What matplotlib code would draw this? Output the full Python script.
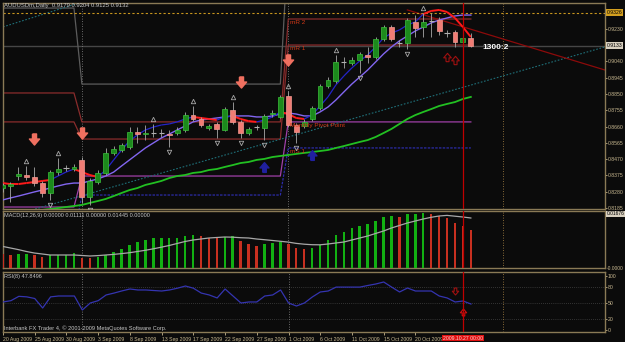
import numpy as np
import matplotlib.pyplot as plt
from matplotlib.collections import LineCollection
from matplotlib.path import Path
from matplotlib.transforms import blended_transform_factory

plt.rcParams['font.family'] = ['Liberation Sans Narrow', 'Liberation Sans', 'DejaVu Sans']

# AUDUSDm daily bars, 20 Aug 2009 onwards (broker has Sunday bars)
opens = [0.8301, 0.8313, 0.8371, 0.8377, 0.8365, 0.8330, 0.8272, 0.8394, 0.8415, 0.8412,
         0.8465, 0.8249, 0.8336, 0.8389, 0.8506, 0.8523, 0.8541, 0.8628, 0.8616, 0.8622,
         0.8622, 0.8616, 0.8622, 0.8640, 0.8727, 0.8704, 0.8651, 0.8675, 0.8640, 0.8757,
         0.8687, 0.8622, 0.8657, 0.8651, 0.8733, 0.8716, 0.8838, 0.8669, 0.8663, 0.8704,
         0.8768, 0.8897, 0.8926, 0.9037, 0.9031, 0.9049, 0.9078, 0.9066, 0.9171, 0.9241,
         0.9148, 0.9148, 0.9271, 0.9241, 0.9276, 0.9282, 0.9206, 0.9212, 0.9154, 0.9179]
highs = [0.8330, 0.8336, 0.8424, 0.8430, 0.8424, 0.8342, 0.8406, 0.8476, 0.8435, 0.8441,
         0.8482, 0.8359, 0.8406, 0.8535, 0.8546, 0.8564, 0.8657, 0.8657, 0.8669, 0.8675,
         0.8646, 0.8640, 0.8657, 0.8745, 0.8780, 0.8716, 0.8675, 0.8687, 0.8774, 0.8803,
         0.8698, 0.8657, 0.8669, 0.8733, 0.8757, 0.8844, 0.8868, 0.8681, 0.8704, 0.8780,
         0.8908, 0.8949, 0.9078, 0.9066, 0.9066, 0.9095, 0.9125, 0.9183, 0.9253, 0.9253,
         0.9165, 0.9294, 0.9311, 0.9326, 0.9323, 0.9300, 0.9224, 0.9224, 0.9189, 0.9204]
lows = [0.8278, 0.8219, 0.8348, 0.8348, 0.8313, 0.8249, 0.8231, 0.8377, 0.8400, 0.8400,
        0.8214, 0.8202, 0.8324, 0.8377, 0.8494, 0.8511, 0.8529, 0.8564, 0.8581, 0.8599,
        0.8599, 0.8541, 0.8611, 0.8628, 0.8692, 0.8657, 0.8640, 0.8593, 0.8634, 0.8675,
        0.8593, 0.8611, 0.8640, 0.8581, 0.8716, 0.8710, 0.8657, 0.8564, 0.8651, 0.8692,
        0.8757, 0.8885, 0.8914, 0.9002, 0.9019, 0.8973, 0.9031, 0.9054, 0.9160, 0.9160,
        0.9125, 0.9113, 0.9183, 0.9183, 0.9183, 0.9195, 0.9183, 0.9125, 0.9142, 0.9125]
closes = [0.8319, 0.8324, 0.8383, 0.8365, 0.8330, 0.8272, 0.8394, 0.8412, 0.8418, 0.8424,
          0.8249, 0.8342, 0.8389, 0.8506, 0.8529, 0.8552, 0.8628, 0.8616, 0.8622, 0.8624,
          0.8620, 0.8611, 0.8640, 0.8727, 0.8704, 0.8669, 0.8663, 0.8646, 0.8762, 0.8687,
          0.8622, 0.8646, 0.8655, 0.8722, 0.8739, 0.8833, 0.8669, 0.8628, 0.8687, 0.8768,
          0.8897, 0.8932, 0.9037, 0.9035, 0.9049, 0.9084, 0.9066, 0.9171, 0.9241, 0.9171,
          0.9146, 0.9282, 0.9235, 0.9271, 0.9274, 0.9218, 0.9204, 0.9154, 0.9177, 0.9132]

tick_pos = [0, 4, 8, 12, 16, 20, 24, 28, 32, 36, 40, 44, 48, 52]
tick_labels = ['20 Aug 2009', '25 Aug 2009', '30 Aug 2009', '3 Sep 2009', '8 Sep 2009',
               '13 Sep 2009', '17 Sep 2009', '22 Sep 2009', '27 Sep 2009', '1 Oct 2009',
               '6 Oct 2009', '11 Oct 2009', '15 Oct 2009', '20 Oct 2009']
price_ticks = [0.8185, 0.8280, 0.8375, 0.8470, 0.8565, 0.8660, 0.8755, 0.8850, 0.8945,
               0.9040, 0.9230]

# moving averages as seen on the chart
ma_fast = [0.8330, 0.8324, 0.8324, 0.8330, 0.8336, 0.8342, 0.8348, 0.8371, 0.8394, 0.8412,
           0.8394, 0.8377, 0.8365, 0.8406, 0.8465, 0.8523, 0.8576, 0.8611, 0.8640, 0.8657,
           0.8669, 0.8675, 0.8687, 0.8704, 0.8716, 0.8710, 0.8704, 0.8698, 0.8716, 0.8722,
           0.8704, 0.8692, 0.8687, 0.8698, 0.8716, 0.8745, 0.8733, 0.8710, 0.8704, 0.8727,
           0.8780, 0.8833, 0.8903, 0.8955, 0.9002, 0.9043, 0.9078, 0.9125, 0.9177, 0.9206,
           0.9224, 0.9253, 0.9271, 0.9317, 0.9335, 0.9341, 0.9329, 0.9294, 0.9241, 0.9183]
ma_fast_dir = "ddddddduuu" "ddduuuuuuu" "uuuuuddduu" "ddduuudddu" "uuuuuuuuuu" "uuuudddddd"
ma_slow = [0.8231, 0.8243, 0.8254, 0.8266, 0.8278, 0.8289, 0.8301, 0.8313, 0.8324, 0.8330,
           0.8330, 0.8342, 0.8354, 0.8371, 0.8394, 0.8430, 0.8465, 0.8500, 0.8535, 0.8564,
           0.8593, 0.8616, 0.8640, 0.8663, 0.8687, 0.8698, 0.8704, 0.8710, 0.8716, 0.8722,
           0.8722, 0.8722, 0.8716, 0.8716, 0.8722, 0.8733, 0.8739, 0.8733, 0.8722, 0.8722,
           0.8745, 0.8774, 0.8815, 0.8862, 0.8908, 0.8949, 0.8990, 0.9037, 0.9084, 0.9125,
           0.9160, 0.9189, 0.9218, 0.9241, 0.9265, 0.9282, 0.9294, 0.9306, 0.9311, 0.9311]
ma_long = [0.8143, 0.8149, 0.8155, 0.8161, 0.8167, 0.8173, 0.8178, 0.8184, 0.8190, 0.8196,
           0.8202, 0.8214, 0.8225, 0.8237, 0.8254, 0.8272, 0.8289, 0.8301, 0.8319, 0.8330,
           0.8342, 0.8359, 0.8371, 0.8377, 0.8389, 0.8394, 0.8406, 0.8412, 0.8424, 0.8435,
           0.8447, 0.8453, 0.8465, 0.8471, 0.8482, 0.8488, 0.8494, 0.8500, 0.8506, 0.8511,
           0.8517, 0.8523, 0.8535, 0.8546, 0.8558, 0.8570, 0.8581, 0.8599, 0.8622, 0.8646,
           0.8675, 0.8704, 0.8727, 0.8745, 0.8762, 0.8780, 0.8792, 0.8803, 0.8821, 0.8833]

# monthly pivots for Aug, Sep, Oct and number of bars in each month
month_bars = [10, 26, 24]
piv_r3 = [0.9352, 0.8908, 0.9738]
piv_r2 = [0.8856, 0.8687, 0.9288]
piv_r1 = [0.8687, 0.8587, 0.9136]
piv_pp = [0.8190, 0.8371, 0.8687]
piv_s1 = [0.8021, 0.8260, 0.8535]

# MACD(12,26,9)
macd_hist = [0.00434, 0.00403, 0.00434, 0.00434, 0.00403, 0.00341, 0.00403, 0.00403, 0.00403, 0.00465,
             0.00310, 0.00310, 0.00326, 0.00403, 0.00496, 0.00589, 0.00713, 0.00806, 0.00868, 0.00930,
             0.00930, 0.00930, 0.00930, 0.00992, 0.01023, 0.00992, 0.00930, 0.00915, 0.00961, 0.00977,
             0.00837, 0.00744, 0.00682, 0.00744, 0.00760, 0.00806, 0.00744, 0.00620, 0.00589, 0.00620,
             0.00713, 0.00868, 0.01023, 0.01116, 0.01240, 0.01302, 0.01364, 0.01457, 0.01581, 0.01612,
             0.01581, 0.01674, 0.01680, 0.01690, 0.01670, 0.01612, 0.01550, 0.01395, 0.01302, 0.01178]
macd_col = "rrggrrgggg" "rrgggggggg" "gggggrrrgg" "rrrgggrrrg" "gggggggggg" "rgggrrrrrr"
macd_signal = [0.00670, 0.00620, 0.00570, 0.00512, 0.00465, 0.00434, 0.00403, 0.00403, 0.00403, 0.00403,
               0.00388, 0.00372, 0.00384, 0.00403, 0.00422, 0.00446, 0.00474, 0.00512, 0.00549, 0.00595,
               0.00645, 0.00698, 0.00760, 0.00822, 0.00868, 0.00899, 0.00930, 0.00946, 0.00961, 0.00955,
               0.00939, 0.00930, 0.00899, 0.00877, 0.00853, 0.00828, 0.00803, 0.00763, 0.00738, 0.00722,
               0.00719, 0.00744, 0.00775, 0.00806, 0.00868, 0.00930, 0.00992, 0.01070, 0.01147, 0.01240,
               0.01318, 0.01395, 0.01457, 0.01519, 0.01572, 0.01612, 0.01631, 0.01606, 0.01581, 0.01550]

# RSI(8)
rsi = [51.6, 54.0, 62.0, 61.0, 58.0, 40.5, 61.0, 62.6, 62.6, 62.6,
       36.8, 49.7, 54.0, 64.5, 68.0, 72.0, 75.5, 73.7, 73.7, 72.7,
       71.8, 73.7, 77.0, 81.0, 77.0, 68.0, 64.5, 59.0, 75.5, 62.6,
       49.7, 51.6, 51.6, 62.6, 64.5, 73.7, 49.7, 44.2, 49.7, 60.8,
       70.0, 71.8, 79.0, 79.0, 79.0, 79.0, 82.0, 84.7, 88.4, 79.0,
       70.0, 77.3, 71.8, 71.8, 71.8, 62.6, 59.0, 51.6, 53.4, 47.85]

# fractals and signal arrows
fractal_up = [3, 7, 19, 24, 29, 36, 42, 53]
fractal_dn = [6, 11, 21, 27, 30, 33, 37, 45, 51]
sell_idx = [4, 10, 30, 36]
sell_price = [0.8587, 0.8622, 0.8920, 0.9049]
buy_idx = [33, 39]
buy_price = [0.8424, 0.8494]
exit_idx = [56, 57]
exit_price = [0.9066, 0.9049]

# drawn objects: (bar, price) anchors
channel_a = [(0, 0.9241), (10, 0.9387)]
channel_b = [(3.7, 0.8173), (75.9, 0.9125)]
down_line = [(51, 0.9341), (75.9, 0.8990)]
high_level = 0.9326
bid_level = 0.9133

BG = '#0b0b0b'
FRAME = '#8a7a56'
TXT = '#c8b890'
LBL = 3.7
W, H = 625, 342

fig = plt.figure(figsize=(W / 100, H / 100), dpi=100, facecolor=BG)


def panel(top, bottom):
    a = fig.add_axes([3 / W, 1 - bottom / H, 602 / W, (bottom - top) / H])
    a.set_facecolor(BG)
    for s in a.spines.values():
        s.set_color(FRAME)
        s.set_linewidth(1)
    a.yaxis.tick_right()
    a.tick_params(colors=TXT, labelsize=LBL, length=1.5, width=0.6, pad=0.6)
    a.set_xlim(0.06, 75.9)
    a.set_xticks([])
    return a


ax = panel(3, 209)
axm = panel(211, 268)
axr = panel(272, 332)

x = np.arange(len(opens))
o, h, l, c = map(np.array, (opens, highs, lows, closes))

# arrow marker
arr = [(-0.22, 0.6), (0.22, 0.6), (0.22, 0.05), (0.55, 0.05), (0, -0.6),
       (-0.55, 0.05), (-0.22, 0.05), (-0.22, 0.6)]
down_arrow = Path(arr)
up_arrow = Path([(px, -py) for px, py in arr])

# price panel
ax.set_ylim(0.81784, 0.93815)
ax.set_yticks(price_ticks)
ax.set_yticklabels([f'{p:.4f}' for p in price_ticks])

for levels, col, ls in [(piv_r3, '#5c5c5c', '-'), (piv_r2, '#8a2c2c', '-'),
                        (piv_r1, '#8a2c2c', '-'), (piv_pp, '#a040a8', '-'),
                        (piv_s1, '#2c2ca8', (0, (2, 1)))]:
    ax.plot(x, np.repeat(levels, month_bars), color=col, lw=0.9, ls=ls, zorder=2)

oct0 = sum(month_bars[:2]) + 0.2
for lev, name in [(piv_r2[2], 'mR 2'), (piv_r1[2], 'mR 1'),
                  (piv_pp[2], 'Monthly Pivot Point'), (piv_s1[2], 'mS 1')]:
    ax.text(oct0, lev - 0.0004, name, color='#d03818', fontsize=4.6, va='top', ha='left', zorder=6)

for p0, p1 in (channel_a, channel_b):
    ax.axline(p0, p1, color='#1f6f78', lw=0.8, ls=(0, (1.5, 1.5)), zorder=2)
ax.plot([down_line[0][0], down_line[1][0]], [down_line[0][1], down_line[1][1]],
        color='#8c0a0a', lw=0.9, zorder=2)

ax.axhline(high_level, color='#c8961e', lw=0.8, ls=(0, (2, 2)), zorder=2)
ax.axhline(bid_level, color='#464646', lw=1.0, zorder=1)

ax.plot(x, ma_long, color='#22c022', lw=1.3, zorder=3)
ax.plot(x, ma_slow, color='#8266f0', lw=1.0, zorder=3)
pts = np.column_stack([x, ma_fast])
segs = np.stack([pts[:-1], pts[1:]], axis=1)
cols = ['#ff1a1a' if d == 'd' else '#2424c8' for d in ma_fast_dir[1:]]
lws = [1.4 if d == 'd' else 0.9 for d in ma_fast_dir[1:]]
ax.add_collection(LineCollection(segs, colors=cols, linewidths=lws, zorder=3))

# candles
ax.vlines(x, l, h, color='#a8a8a8', lw=0.6, zorder=4)
body_lo = np.minimum(o, c)
body_h = np.abs(c - o)
doji = body_h < 0.0003
bull = (c > o) & ~doji
bear = (c < o) & ~doji
ax.bar(x[bull], body_h[bull], bottom=body_lo[bull], width=0.62, color='#1c8a1c',
       edgecolor='#3cc03c', lw=0.5, zorder=5)
ax.bar(x[bear], body_h[bear], bottom=body_lo[bear], width=0.62, color='#f07c74',
       edgecolor='#f49a92', lw=0.5, zorder=5)
ax.hlines(c[doji], x[doji] - 0.32, x[doji] + 0.32, color='#b0b0b0', lw=0.8, zorder=5)

ax.plot(np.array(fractal_up), h[fractal_up] + 0.0029, ls='none', marker='^', ms=3.2,
        mfc='none', mec='#a8a8a8', mew=0.6, zorder=6)
ax.plot(np.array(fractal_dn), l[fractal_dn] - 0.0029, ls='none', marker='v', ms=3.2,
        mfc='none', mec='#a8a8a8', mew=0.6, zorder=6)
ax.plot(sell_idx, sell_price, ls='none', marker=down_arrow, ms=8, color='#f07060', zorder=6)
ax.plot(buy_idx, buy_price, ls='none', marker=up_arrow, ms=7, color='#2020a0', zorder=6)
ax.plot(exit_idx, exit_price, ls='none', marker=up_arrow, ms=6, mfc='none', mec='#a01010',
        mew=0.8, zorder=6)

ax.text(60.4, 0.9119, '1300:2', color='white', fontsize=6, fontweight='bold', va='center',
        zorder=7)

tr = blended_transform_factory(ax.transAxes, ax.transData)
for lev, fc in ((high_level, '#d4a020'), (bid_level, '#d8d0c0')):
    ax.text(1.003, lev, f'{lev:.4f}', transform=tr, fontsize=LBL, color='black', va='center',
            ha='left', bbox=dict(boxstyle='square,pad=0.12', fc=fc, ec='none'))

# MACD panel
axm.set_ylim(0, 0.01767)
axm.set_yticks([])
axm.bar(x, macd_hist, width=0.32, color=['#12b012' if k == 'g' else '#c83020' for k in macd_col],
        zorder=3)
axm.plot(x, macd_signal, color='#a8a8a8', lw=0.9, zorder=4)
trm = blended_transform_factory(axm.transAxes, axm.transData)
axm.text(1.003, 0.01676, '0.01676', transform=trm, fontsize=LBL - 0.2, color='black',
         va='center', bbox=dict(boxstyle='square,pad=0.1', fc='#d8d0c0', ec='none'))
axm.text(1.003, 0.0, '-0.0000', transform=trm, fontsize=LBL - 0.2, color=TXT, va='center')

# RSI panel
axr.set_ylim(-3.7, 106.8)
axr.set_yticks([0, 20, 50, 80, 100])
for lv in (20, 50, 80):
    axr.axhline(lv, color='#5a5a5a', lw=0.5, ls=(0, (1, 2)), zorder=1)
axr.plot(x, rsi, color='#3434b0', lw=0.9, zorder=3)
axr.plot([57], [71.8], ls='none', marker=down_arrow, ms=5, mfc='none', mec='#a01010', mew=0.8)
axr.plot([58], [33.0], ls='none', marker=up_arrow, ms=5, mfc='none', mec='#d01010', mew=0.8)
axr.set_xticks(tick_pos)
axr.set_xticklabels(tick_labels, ha='left')
axr.tick_params(axis='x', colors=TXT, labelsize=LBL, length=2, pad=1.5)
trr = blended_transform_factory(axr.transData, axr.transAxes)
axr.text(58, -0.06, '2009.10.27 00:00', transform=trr, fontsize=LBL, color='#ffd0d0',
         ha='center', va='top', bbox=dict(boxstyle='square,pad=0.15', fc='#e01010', ec='none'),
         zorder=8, clip_on=False)

# vertical lines across all panels
for a in (ax, axm, axr):
    for sep in (10, 36):
        a.axvline(sep, color='#8a8a8a', lw=0.6, ls=(0, (1, 2)), zorder=1)
    a.axvline(63, color='#b08a48', lw=0.6, ls=(0, (1, 2)), zorder=1)
    a.axvline(58, color='#c00000', lw=0.9, zorder=7)

fig.text(4 / W, 1 - 5.5 / H, 'AUDUSDm,Daily  0.9179 0.9204 0.9125 0.9132', color='#c8c8c8',
         fontsize=4.2, va='center')
fig.text(4 / W, 1 - 215.5 / H, 'MACD(12,26,9) 0.00000 0.01111 0.00000 0.01445 0.00000',
         color='#c8c8c8', fontsize=4.0, va='center')
fig.text(4 / W, 1 - 276.5 / H, 'RSI(8) 47.8496', color='#c8c8c8', fontsize=4.0, va='center')
fig.text(4 / W, 1 - 328.5 / H, 'Interbank FX Trader 4, © 2001-2009 MetaQuotes Software Corp.',
         color='#c8c8c8', fontsize=4.1, va='center')

fig.savefig('out.png', dpi=100, facecolor=BG)
